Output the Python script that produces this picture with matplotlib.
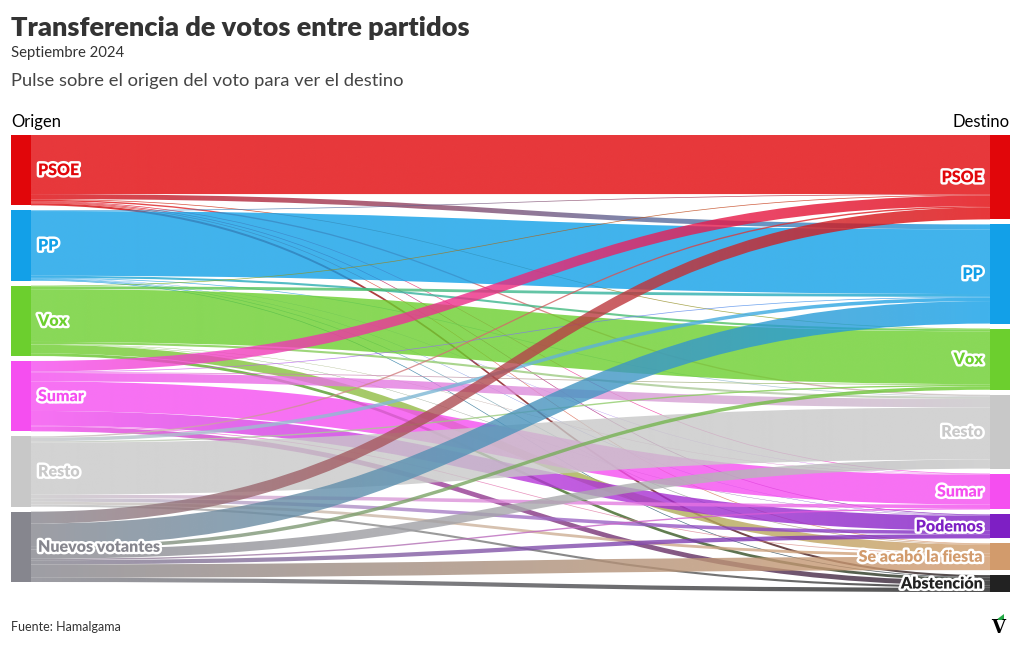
import numpy as np
import matplotlib.pyplot as plt
from matplotlib.path import Path
from matplotlib.patches import PathPatch, Rectangle, Polygon
import matplotlib.patheffects as pe
from matplotlib.colors import to_rgb

# nodos
origenes = ["PSOE", "PP", "Vox", "Sumar", "Resto", "Nuevos votantes"]
destinos = ["PSOE", "PP", "Vox", "Resto", "Sumar", "Podemos",
            "Se acabó la fiesta", "Abstención"]
col_origen = ["#e1060a", "#12a0e8", "#6ccf2e", "#f54ef0", "#c8c8c8", "#86868e"]
col_destino = ["#e1060a", "#12a0e8", "#6ccf2e", "#c8c8c8", "#f54ef0",
               "#7e1fc4", "#d29b6c", "#222222"]

# % del voto de cada origen que va a cada destino (orden de destinos)
desde_psoe = [84, 7, 1, 2, 1, 1, 1, 3]
desde_pp = [1, 92, 3, 1, 0.5, 0.5, 1, 1]
desde_vox = [1, 4, 75, 3, 0.5, 0.5, 12, 4]
desde_sumar = [15, 1, 1, 12, 42, 21, 1, 7]
desde_resto = [2, 5, 2, 74, 5, 5, 4, 3]
desde_nuevos = [17, 32, 5, 13, 2, 6, 19, 6]

flujos = np.array([desde_psoe, desde_pp, desde_vox,
                   desde_sumar, desde_resto, desde_nuevos], dtype=float)

plt.rcParams['font.family'] = ['Lato', 'DejaVu Sans']

fig = plt.figure(figsize=(10.2, 6.5), dpi=100)
ax = fig.add_axes([0, 0, 1, 1])

# geometria en pixeles
top, bottom_left = 135, 582
gap = 5
xl0, xl1 = 11, 31
xr0, xr1 = 990, 1010

tot_o = flujos.sum(axis=1)
tot_d = flujos.sum(axis=0)
esc = (bottom_left - top - gap * (len(origenes) - 1)) / tot_o.sum()

y_o = []
y = top
for t in tot_o:
    y_o.append(y)
    y += t * esc + gap
y_d = []
y = top
for t in tot_d:
    y_d.append(y)
    y += t * esc + gap

# enlaces
off_o = list(y_o)
off_d = list(y_d)
pos_d = [[0] * len(destinos) for _ in origenes]
for j in range(len(destinos)):
    for i in range(len(origenes)):
        pos_d[i][j] = off_d[j]
        off_d[j] += flujos[i, j] * esc

z = 1
for i in range(len(origenes)):
    for j in range(len(destinos)):
        h = flujos[i, j] * esc
        ya = off_o[i]
        off_o[i] += h
        yb = pos_d[i][j]
        xm1 = xl1 + (xr0 - xl1) * 0.5
        verts = [(xl1, ya), (xm1, ya), (xm1, yb), (xr0, yb),
                 (xr0, yb + h), (xm1, yb + h), (xm1, ya + h), (xl1, ya + h),
                 (xl1, ya)]
        codes = [Path.MOVETO, Path.CURVE4, Path.CURVE4, Path.CURVE4,
                 Path.LINETO, Path.CURVE4, Path.CURVE4, Path.CURVE4,
                 Path.CLOSEPOLY]
        patch = PathPatch(Path(verts, codes), fc='none', ec='none',
                          transform=ax.transData)
        c1 = np.array(to_rgb(col_origen[i]))
        c2 = np.array(to_rgb(col_destino[j]))
        t = np.linspace(0, 1, 256)[:, None]
        grad = c1 * (1 - t) + c2 * t
        img = np.concatenate([grad, np.full((256, 1), 0.8)], axis=1)[None, :, :]
        ymin = min(ya, yb) - 1
        ymax = max(ya, yb) + h + 1
        im = ax.imshow(img, extent=(xl1, xr0, ymax, ymin), aspect='auto',
                       interpolation='bilinear', zorder=z)
        im.set_clip_path(patch)
        z += 1

# nodos y etiquetas
halo = [pe.withStroke(linewidth=3.5, foreground='white')]
for i, nombre in enumerate(origenes):
    h = tot_o[i] * esc
    ax.add_patch(Rectangle((xl0, y_o[i]), xl1 - xl0, h,
                           fc=col_origen[i], ec='none', zorder=z))
    ax.text(38, y_o[i] + h / 2, nombre, ha='left', va='center',
            fontsize=11.5, fontweight='heavy', color=col_origen[i],
            path_effects=halo, zorder=z + 1)
for j, nombre in enumerate(destinos):
    h = tot_d[j] * esc
    ax.add_patch(Rectangle((xr0, y_d[j]), xr1 - xr0, h,
                           fc=col_destino[j], ec='none', zorder=z))
    ax.text(983, y_d[j] + h / 2, nombre, ha='right', va='center',
            fontsize=11.5, fontweight='heavy', color=col_destino[j],
            path_effects=halo, zorder=z + 1)

# textos
ax.text(11, 28, "Transferencia de votos entre partidos", fontsize=19.5,
        fontweight='heavy', color='#333333', va='center')
ax.text(11, 53, "Septiembre 2024", fontsize=10.7, color='#333333', va='center')
ax.text(11, 81, "Pulse sobre el origen del voto para ver el destino",
        fontsize=13.2, color='#444444', va='center')
ax.text(11, 122, "Origen", fontsize=12, color='black', va='center')
ax.text(1010, 122, "Destino", fontsize=12, color='black', va='center',
        ha='right')
ax.text(11, 627, "Fuente: Hamalgama", fontsize=9, color='#333333',
        va='center')

# logo
ax.text(998, 628, "V", fontsize=13, fontweight='bold', family='DejaVu Serif',
        color='black', ha='center', va='center')
ax.add_patch(Polygon([(996, 620), (1004, 614), (1004, 620)], fc='#22a845',
                     ec='none'))

ax.set_xlim(0, 1020)
ax.set_ylim(650, 0)
ax.axis('off')

plt.savefig("out.png", dpi=100, facecolor='white')
